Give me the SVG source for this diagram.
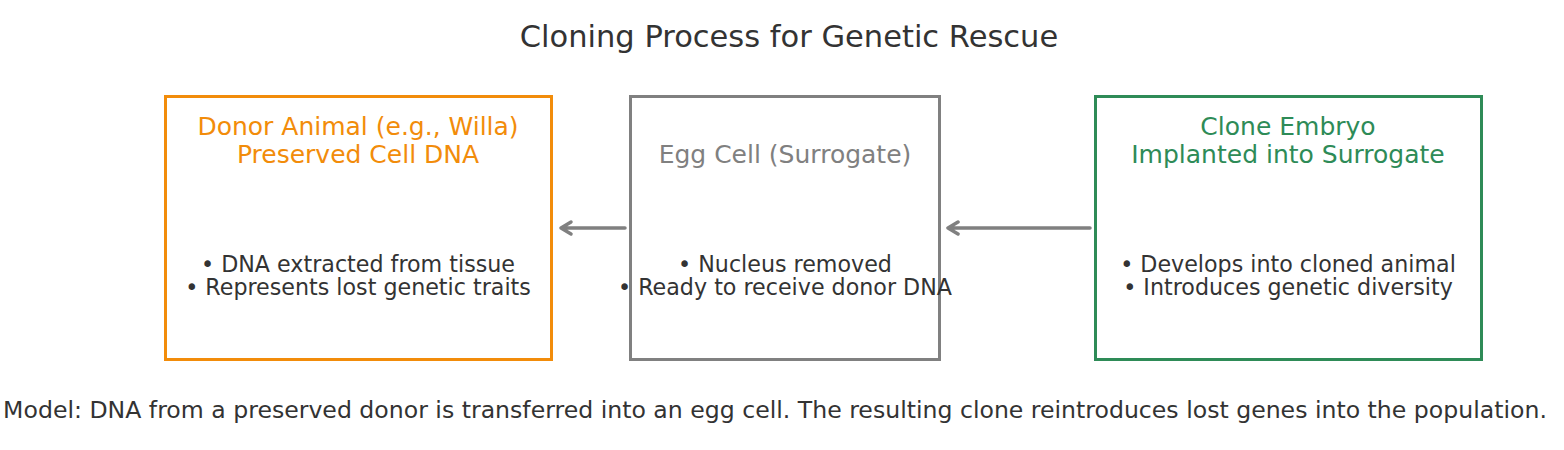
<svg xmlns="http://www.w3.org/2000/svg" width="1564" height="450" viewBox="0 0 1564 450">
<style>
text{font-family:"DejaVu Sans","Noto Sans",sans-serif;text-anchor:middle}
.title{font-size:30.5px;fill:#333}
.nt{font-size:25px}
.body{font-size:22.2px;fill:#333}
.foot{font-size:23.6px;fill:#333}
.box{fill:#fff;stroke-width:3}
.conn{stroke:#808080;stroke-width:3.5;fill:none;stroke-linecap:round;stroke-linejoin:round}
</style>
<rect width="1564" height="450" fill="#fff"/>
<text class="title" x="789" y="47">Cloning Process for Genetic Rescue</text>
<g id="donor">
<rect class="box" x="165.5" y="96.5" width="386" height="263" stroke="#f28c0a"/>
<text class="nt" x="358" y="135" fill="#f28c0a">Donor Animal (e.g., Willa)</text>
<text class="nt" x="358" y="163" fill="#f28c0a">Preserved Cell DNA</text>
<text class="body" x="358" y="272">• DNA extracted from tissue</text>
<text class="body" x="358" y="295">• Represents lost genetic traits</text>
</g>
<g id="egg">
<rect class="box" x="630.5" y="96.5" width="309" height="263" stroke="#808080"/>
<text class="nt" x="785" y="163" fill="#808080">Egg Cell (Surrogate)</text>
<text class="body" x="785" y="272">• Nucleus removed</text>
<text class="body" x="785" y="295">• Ready to receive donor DNA</text>
</g>
<g id="clone">
<rect class="box" x="1095.5" y="96.5" width="386" height="263" stroke="#2e8b57"/>
<text class="nt" x="1288" y="135" fill="#2e8b57">Clone Embryo</text>
<text class="nt" x="1288" y="163" fill="#2e8b57">Implanted into Surrogate</text>
<text class="body" x="1288" y="272">• Develops into cloned animal</text>
<text class="body" x="1288" y="295">• Introduces genetic diversity</text>
</g>
<g id="connectors">
<path class="conn" d="M625 228H561M571 222L561 228L571 234"/>
<path class="conn" d="M1090 228H948M958 222L948 228L958 234"/>
</g>
<text class="foot" x="775" y="418">Model: DNA from a preserved donor is transferred into an egg cell. The resulting clone reintroduces lost genes into the population.</text>
</svg>
